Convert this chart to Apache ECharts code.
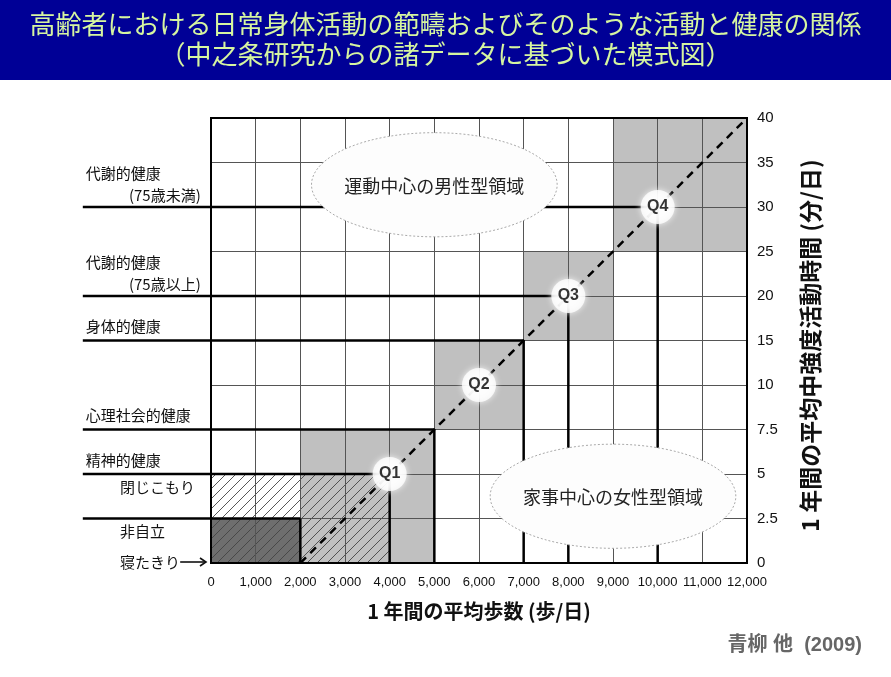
<!DOCTYPE html>
<html><head><meta charset="utf-8">
<script src="https://cdn.jsdelivr.net/npm/echarts@6/dist/echarts.min.js"></script>
<style>html,body{margin:0;padding:0;background:#fff}#c{width:891px;height:677px}</style>
</head><body><div id="c"></div>
<script>
// ---- data ----
const stepTicks = [0,1000,2000,3000,4000,5000,6000,7000,8000,9000,10000,11000,12000];
const minuteTicks = [0,2.5,5,7.5,10,15,20,25,30,35,40];
const quartiles = ['Q1','Q2','Q3','Q4'];
const quartileSteps = [4000,6000,8000,10000];
const quartileMinutes = [5,10,20,30];
const shadedSteps = [[2000,5000],[5000,7000],[7000,9000],[9000,12000]];
const shadedMinutes = [[0,7.5],[7.5,15],[15,25],[25,40]];
const frailSteps = [0,2000];
const frailMinutes = [0,2.5];
const homeboundSteps = [0,4000];
const homeboundMinutes = [0,5];
const trendSteps = [2000,12000];
const trendMinutes = [0,40];
const thresholdSteps = [10000,8000,7000,5000,4000,2000];
const thresholdMinutes = [30,20,15,7.5,5,2.5];
const healthLabels = ['代謝的健康','代謝的健康','身体的健康','心理社会的健康','精神的健康',''];
const healthSubLabels = ['(75歳未満)','(75歳以上)','','','閉じこもり','非自立'];
const bedriddenLabel = '寝たきり';
const maleRegion = '運動中心の男性型領域';
const femaleRegion = '家事中心の女性型領域';

// piecewise mapping of minutes onto equally spaced grid rows
function toRow(m){
  for(let i=0;i<minuteTicks.length-1;i++){
    const a=minuteTicks[i], b=minuteTicks[i+1];
    if(m<=b) return i+(m-a)/(b-a);
  }
  return minuteTicks.length-1;
}

const LEFT_START = -2870;   // where threshold lines start (left of plot, axis units)
const CJK = "'Noto Sans CJK JP', sans-serif";
const NUM = "'Liberation Sans', Arial, sans-serif";

// hatch pattern
const hatch = document.createElement('canvas');
hatch.width = 10; hatch.height = 10;
(function(){
  const g = hatch.getContext('2d');
  g.strokeStyle = '#444'; g.lineWidth = 0.9;
  g.beginPath();
  g.moveTo(0,10); g.lineTo(10,0);
  g.moveTo(-1,1); g.lineTo(1,-1);
  g.moveTo(9,11); g.lineTo(11,9);
  g.stroke();
})();

const chart = echarts.init(document.getElementById('c'), null, {renderer:'canvas'});

function rectItem(api, x0,x1,r0,r1, style){
  const p0 = api.coord([x0, r1]), p1 = api.coord([x1, r0]);
  return {type:'rect', shape:{x:p0[0], y:p0[1], width:p1[0]-p0[0], height:p1[1]-p0[1]}, style};
}

const shadedData = shadedSteps.map((s,i)=>[s[0], s[1], toRow(shadedMinutes[i][0]), toRow(shadedMinutes[i][1])]);
const thresholdData = thresholdSteps.map((s,i)=>[s, toRow(thresholdMinutes[i])]);

const option = {
  animation:false,
  backgroundColor:'#fff',
  grid:{left:211, right:144, top:118, bottom:114, show:false},
  xAxis:{
    type:'value', min:0, max:12000, interval:1000, z:3,
    axisLine:{show:false}, axisTick:{show:false},
    splitLine:{show:true, lineStyle:{color:'#555', width:1}},
    axisLabel:{margin:13, color:'#111', fontFamily:NUM, fontSize:13, showMaxLabel:true, showMinLabel:true, hideOverlap:false,
      formatter:v=>stepTicks.includes(v)? v.toLocaleString('en-US') : ''},
    name:'1 年間の平均歩数 (歩/日)', nameLocation:'middle', nameGap:38,
    nameTextStyle:{fontFamily:CJK, fontSize:20, color:'#111', fontWeight:'bold'}
  },
  yAxis:{
    type:'value', min:0, max:10, interval:1, position:'right', z:3,
    axisLine:{show:false}, axisTick:{show:false},
    splitLine:{show:true, lineStyle:{color:'#555', width:1}},
    axisLabel:{margin:10, color:'#111', fontFamily:NUM, fontSize:15, showMaxLabel:true,
      formatter:v=>String(minuteTicks[Math.round(v)])},
    name:'1 年間の平均中強度活動時間 (分/日)', nameLocation:'middle', nameGap:52, nameRotate:90,
    nameTextStyle:{fontFamily:CJK, fontSize:23, color:'#111', fontWeight:'bold', padding:[0,0,0,-10]}
  },
  graphic:[
    {type:'rect', left:0, top:0, shape:{width:891, height:80}, style:{fill:'#000096'}, z:0},
    {type:'text', x:445.5, y:24, style:{text:'高齢者における日常身体活動の範疇およびそのような活動と健康の関係', textAlign:'center', textVerticalAlign:'middle', font:"26px "+CJK, fill:'#d6f5a0'}},
    {type:'text', x:445.5, y:54, style:{text:'（中之条研究からの諸データに基づいた模式図）', textAlign:'center', textVerticalAlign:'middle', font:"26px "+CJK, fill:'#d6f5a0'}},
    {type:'text', x:862, y:645, style:{text:'青柳 他  (2009)', textAlign:'right', textVerticalAlign:'middle', font:"bold 20px 'Liberation Sans', "+CJK, fill:'#666'}}
  ],
  series:[
    { // gray quartile regions
      type:'custom', z:1, data:shadedData, encode:{x:[0,1], y:[2,3]},
      renderItem:(p,api)=>rectItem(api, api.value(0), api.value(1), api.value(2), api.value(3), {fill:'#c0c0c0'})
    },
    { // 非自立 dark box
      type:'custom', z:2, data:[[frailSteps[0],frailSteps[1],toRow(frailMinutes[0]),toRow(frailMinutes[1])]], encode:{x:[0,1], y:[2,3]},
      renderItem:(p,api)=>rectItem(api, api.value(0), api.value(1), api.value(2), api.value(3), {fill:'#6e6e6e'})
    },
    { // 閉じこもり hatch
      type:'custom', z:2.5, data:[[homeboundSteps[0],homeboundSteps[1],toRow(homeboundMinutes[0]),toRow(homeboundMinutes[1])]], encode:{x:[0,1], y:[2,3]},
      renderItem:(p,api)=>rectItem(api, api.value(0), api.value(1), api.value(2), api.value(3), {fill:{image:hatch, repeat:'repeat'}})
    },
    { // threshold lines: horizontal from left and vertical from bottom
      type:'custom', z:10, data:thresholdData, encode:{x:0, y:1},
      renderItem:(p,api)=>{
        const x=api.value(0), r=api.value(1);
        const a=api.coord([LEFT_START, r]), b=api.coord([x, r]), c=api.coord([x, 0]);
        const ls={stroke:'#000', lineWidth:2.5};
        return {type:'group', children:[
          {type:'line', shape:{x1:a[0], y1:a[1], x2:b[0], y2:b[1]}, style:ls},
          {type:'line', shape:{x1:c[0], y1:c[1], x2:b[0], y2:b[1]}, style:ls}
        ]};
      }
    },
    { // diagonal dashed line
      type:'custom', z:11, data:[[trendSteps[0], toRow(trendMinutes[0]), trendSteps[1], toRow(trendMinutes[1])]], encode:{x:[0,2], y:[1,3]},
      renderItem:(p,api)=>{
        const a=api.coord([api.value(0), api.value(1)]), b=api.coord([api.value(2), api.value(3)]);
        return {type:'line', shape:{x1:a[0], y1:a[1], x2:b[0], y2:b[1]}, style:{stroke:'#000', lineWidth:2.5, lineDash:[8,6]}};
      }
    },
    { // frame
      type:'custom', z:12, data:[[0,0,12000,10]], encode:{x:[0,2], y:[1,3]},
      renderItem:(p,api)=>rectItem(api, api.value(0), api.value(2), api.value(1), api.value(3), {fill:'none', stroke:'#000', lineWidth:2})
    },
    { // left-hand labels
      type:'custom', z:12, data:thresholdData, encode:{x:0, y:1},
      renderItem:(p,api)=>{
        const i=p.dataIndex, r=api.value(1);
        const base=api.coord([LEFT_START, r]);
        const right=api.coord([-230, r]);
        const indent=api.coord([-2040, r]);
        const font="15px "+CJK;
        const kids=[];
        const main=healthLabels[i], sub=healthSubLabels[i];
        if(main){
          kids.push({type:'text', style:{text:main, x:base[0]+3, y:base[1]-(sub && i<2 ? 34 : 14), textAlign:'left', textVerticalAlign:'middle', font, fill:'#111'}});
        }
        if(sub){
          if(i<2) kids.push({type:'text', style:{text:sub, x:right[0], y:base[1]-12, textAlign:'right', textVerticalAlign:'middle', font, fill:'#111'}});
          else kids.push({type:'text', style:{text:sub, x:indent[0], y:base[1]+13, textAlign:'left', textVerticalAlign:'middle', font, fill:'#111'}});
        }
        if(i===thresholdData.length-1){
          const z0=api.coord([0,0]);
          const t=api.coord([-2040,0]);
          kids.push({type:'text', style:{text:bedriddenLabel, x:t[0], y:z0[1]-1, textAlign:'left', textVerticalAlign:'middle', font, fill:'#111'}});
          const ax=api.coord([-690,0]);
          kids.push({type:'line', shape:{x1:ax[0], y1:z0[1]-1, x2:z0[0]-5, y2:z0[1]-1}, style:{stroke:'#111', lineWidth:1.6}});
          kids.push({type:'polyline', shape:{points:[[z0[0]-11,z0[1]-5],[z0[0]-5,z0[1]-1],[z0[0]-11,z0[1]+3]]}, style:{stroke:'#111', lineWidth:1.6, fill:'none'}});
        }
        return {type:'group', children:kids};
      }
    },
    { // region ellipses
      type:'custom', z:13, data:[[5000, toRow(32.5), 0],[9000, toRow(3.75), 1]], encode:{x:0, y:1},
      renderItem:(p,api)=>{
        const c=api.coord([api.value(0), api.value(1)]);
        const s=api.size([2750, 1.17]);
        const txt = api.value(2)===0 ? maleRegion : femaleRegion;
        return {type:'group', children:[
          {type:'ellipse', shape:{cx:c[0], cy:c[1], rx:s[0], ry:s[1]}, style:{fill:'#fdfdfd', stroke:'#aaa', lineWidth:1, lineDash:[2,2]}},
          {type:'text', style:{text:txt, x:c[0], y:c[1]+1, textAlign:'center', textVerticalAlign:'middle', font:"18px "+CJK, fill:'#222'}}
        ]};
      }
    },
    { // quartile markers
      type:'scatter', z:15, symbol:'circle', symbolSize:34,
      data:quartileSteps.map((s,i)=>[s, toRow(quartileMinutes[i])]),
      itemStyle:{color:'#fff', shadowBlur:6, shadowColor:'rgba(255,255,255,1)'},
      label:{show:true, position:'inside', formatter:p=>quartiles[p.dataIndex], color:'#000', fontFamily:NUM, fontWeight:'bold', fontSize:16}
    }
  ]
};
chart.setOption(option);
</script>
</body></html>
